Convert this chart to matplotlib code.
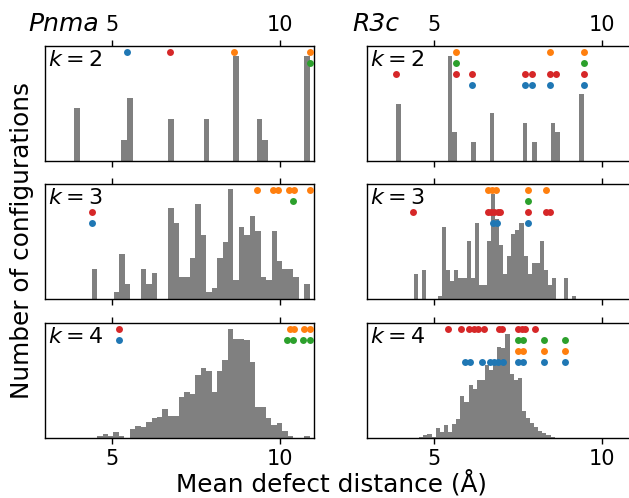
import numpy as np
import matplotlib
matplotlib.use("Agg")
import matplotlib.pyplot as plt
import matplotlib.transforms as mtransforms

# Histogram counts of mean defect distance (uniform bins between the given edges)
pnma_k2_counts = [5, 0, 0, 0, 0, 0, 0, 0, 2, 6, 0, 0, 0, 0, 0, 0, 4, 0, 0, 0,
                  0, 0, 4, 0, 0, 0, 0, 10, 0, 0, 0, 4, 2, 0, 0, 0, 0, 0, 0, 10]
pnma_k3_counts = [8, 0, 0, 0, 2, 12, 4, 0, 0, 8, 4, 7, 0, 0, 24, 20, 6, 6, 11, 25,
                  17, 2, 3, 11, 15, 29, 5, 19, 17, 22, 18, 6, 5, 18, 10, 8, 8, 6, 0, 4]
pnma_k4_counts = [1, 3, 1, 4, 1, 0, 7, 9, 8, 12, 15, 16, 22, 17, 17, 31, 35, 34, 48, 54,
                  51, 35, 51, 60, 84, 76, 76, 75, 58, 24, 24, 15, 10, 11, 5, 1, 0, 0, 1]
r3c_k2_counts = [6, 0, 0, 0, 0, 0, 0, 0, 0, 0, 0, 11, 3, 0, 0, 0, 2, 0, 0, 0,
                 5, 0, 0, 0, 0, 0, 0, 4, 0, 2, 0, 0, 0, 4, 3, 0, 0, 0, 0, 7]
r3c_k3_counts = [7, 0, 8, 0, 0, 0, 1, 20, 8, 5, 8, 6, 6, 16, 6, 21, 4, 4, 16, 29,
                 22, 15, 7, 12, 18, 19, 21, 12, 7, 10, 10, 16, 8, 4, 6, 0, 0, 6, 0, 1]
r3c_k4_counts = [1, 2, 3, 1, 8, 5, 11, 5, 12, 16, 36, 31, 46, 42, 50, 50, 63, 59, 66, 79,
                 78, 90, 55, 50, 52, 23, 17, 13, 9, 6, 4, 2, 1]

# (first edge, last edge) of each histogram
pnma_ranges = [(3.86, 10.87), (4.395, 10.87), (4.55, 10.87)]
r3c_ranges = [(3.86, 9.44), (4.386, 9.228), (4.554, 8.58)]
pnma_ytop = [10.95, 30.3, 88.5]
r3c_ytop = [12.05, 31.7, 100.0]

# Marked configurations: (colour, row, distances)
pnma_k2_dots = [("tab:blue", 1, [5.44]), ("tab:red", 1, [6.73]),
                ("tab:orange", 1, [8.61, 10.87]), ("tab:green", 2, [10.87])]
pnma_k3_dots = [("tab:orange", 1, [9.30, 9.79, 9.92, 10.26, 10.40, 10.87]),
                ("tab:green", 2, [10.37]), ("tab:red", 3, [4.39]), ("tab:blue", 4, [4.39])]
pnma_k4_dots = [("tab:red", 1, [5.20]), ("tab:blue", 2, [5.20]),
                ("tab:orange", 1, [10.28, 10.40, 10.70, 10.87]),
                ("tab:green", 2, [10.19, 10.37, 10.67, 10.87])]
r3c_k2_dots = [("tab:orange", 1, [5.64, 8.45, 9.44]), ("tab:green", 2, [5.64, 9.44]),
               ("tab:red", 3, [3.86, 5.64, 6.12, 7.69, 7.91, 8.45, 8.62, 9.44]),
               ("tab:blue", 4, [6.12, 7.69, 7.91, 8.45, 9.44])]
r3c_k3_dots = [("tab:orange", 1, [6.59, 6.72, 6.84, 7.79, 8.31]), ("tab:green", 2, [7.79]),
               ("tab:red", 3, [4.38, 6.59, 6.69, 6.79, 6.89, 6.96, 7.79, 8.31, 8.45]),
               ("tab:blue", 4, [6.74, 6.87, 7.79])]
r3c_k4_dots = [("tab:red", 1, [5.40, 5.79, 6.04, 6.19, 6.29, 6.49, 6.91, 7.01,
                               7.50, 7.60, 7.71, 8.00]),
               ("tab:green", 2, [7.50, 7.63, 8.25, 8.89]),
               ("tab:orange", 3, [7.50, 7.63, 8.25, 8.89]),
               ("tab:blue", 4, [5.92, 6.06, 6.41, 6.67, 6.79, 6.90, 7.03, 7.50, 7.63,
                                8.25, 8.89])]

ks = [2, 3, 4]
columns = [
    ("Pnma", [pnma_k2_counts, pnma_k3_counts, pnma_k4_counts], pnma_ranges, pnma_ytop,
     [pnma_k2_dots, pnma_k3_dots, pnma_k4_dots]),
    ("R3c", [r3c_k2_counts, r3c_k3_counts, r3c_k4_counts], r3c_ranges, r3c_ytop,
     [r3c_k2_dots, r3c_k3_dots, r3c_k4_dots]),
]

fig = plt.figure(figsize=(6.29, 4.98), dpi=100)
col_x = [0.0715, 0.5835]
row_y = [0.6767, 0.399, 0.1211]
w, h = 0.4277, 0.2309

for c, (phase, counts_list, ranges, ytops, dots_list) in enumerate(columns):
    for r, k in enumerate(ks):
        ax = fig.add_axes([col_x[c], row_y[r], w, h])
        counts = counts_list[r]
        lo, hi = ranges[r]
        edges = np.linspace(lo, hi, len(counts) + 1)
        ax.stairs(counts, edges, fill=True, color="gray", linewidth=0)

        # marked configurations sit in fixed rows near the top of the panel
        trans = mtransforms.blended_transform_factory(ax.transData, ax.transAxes)
        for color, level, xs in dots_list[r]:
            ax.scatter(xs, [0.948 - 0.0957 * (level - 1)] * len(xs), s=25,
                       color=color, transform=trans, zorder=3, clip_on=False,
                       linewidths=0)

        ax.set_xlim(3, 11)
        ax.set_ylim(0, ytops[r])
        ax.set_xticks([5, 10])
        ax.set_yticks([])
        ax.tick_params(axis="x", top=True, bottom=True, direction="out",
                       length=4.5, width=1, labelsize=15,
                       labeltop=(r == 0), labelbottom=(r == 2))
        for sp in ax.spines.values():
            sp.set_linewidth(1)
        ax.text(0.012, 0.965, f"$k = {k}$", transform=ax.transAxes,
                ha="left", va="top", fontsize=16)
        if r == 0:
            ax.text(-0.062 if c == 0 else -0.056, 1.13, phase, style="italic",
                    transform=ax.transAxes, ha="left", va="baseline", fontsize=18)

fig.text(331 / 629, 1 - 483 / 498, "Mean defect distance (Å)",
         ha="center", va="center", fontsize=17.8)
fig.text(22 / 629, 0.518, "Number of configurations", rotation=90,
         ha="center", va="center", fontsize=17.8)

fig.savefig("out.png", dpi=100)
